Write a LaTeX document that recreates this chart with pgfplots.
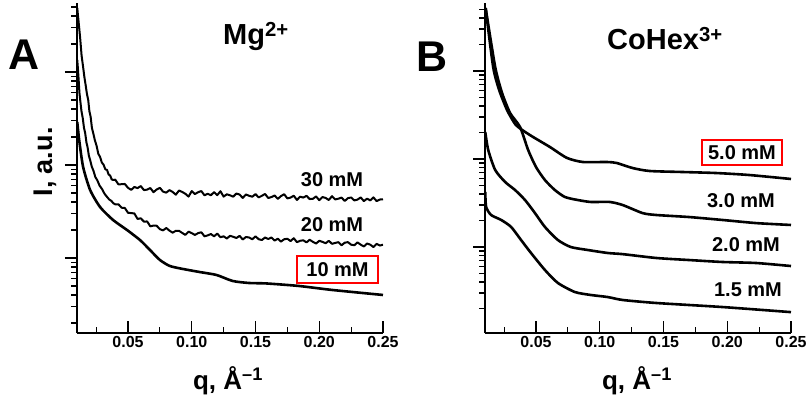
\documentclass[border=0pt]{standalone}
\usepackage{fontspec}
\setmainfont{Liberation Sans}
\usepackage{pgfplots}
\pgfplotsset{compat=1.18}
\newcommand{\fs}[1]{\fontsize{#1}{#1}\selectfont\bfseries}
\pgfplotsset{
  every axis/.append style={
    scale only axis, width=306bp, height=330bp,
    anchor=south west,
    axis x line*=bottom, axis y line*=left,
    axis line style={line width=1.5bp, -},
    xmin=0.01, xmax=0.25,
    xtick={0.05,0.1,0.15,0.2,0.25},
    minor xtick={0.025,0.075,0.125,0.175,0.225},
    xtick align=inside, ytick align=outside,
    major tick length=12bp, minor tick length=6bp,
    every tick/.append style={black, line width=1.2bp},
    yticklabel=\empty,
    /pgf/number format/assume math mode=true,
    xticklabel style={font=\fs{16bp}, /pgf/number format/fixed, /pgf/number format/fixed zerofill, /pgf/number format/precision=2},
  },
}
\tikzset{
  curve/.style={black, line width=2.6bp, line join=round},
  noisy/.style={black, line width=2.0bp, line join=round},
}
\begin{document}
\begin{tikzpicture}
\useasboundingbox (0,0) rectangle (812bp,402bp);
% ---------------- Panel A ----------------
\begin{axis}[at={(77bp,69bp)}, ymode=log, ymin=0.156, ymax=552]
% 30 mM
\addplot[noisy, mark=none] coordinates {
(0.0102,488) (0.0115,320) (0.0125,230) (0.0136,150) (0.0148,113) (0.0158,88) (0.0168,72)
(0.0178,58) (0.0188,50) (0.0197,38) (0.0207,33) (0.0217,25) (0.0227,22.1) (0.0240,18.5)
(0.0254,16.0) (0.0267,13.2) (0.0281,12.2) (0.0295,10.6) (0.0308,10.1) (0.0322,9.0)
(0.0336,8.83) (0.0348,7.9) (0.0360,7.7) (0.0372,7.0) (0.0383,6.90)
(0.0400,6.95) (0.0425,6.19) (0.0450,6.21) (0.0475,6.25) (0.0500,5.68) (0.0525,5.40)
(0.0550,5.80) (0.0575,5.64) (0.0600,5.93) (0.0625,5.37) (0.0650,5.43) (0.0675,5.65)
(0.0700,5.10) (0.0725,5.45) (0.0750,5.68) (0.0775,5.17) (0.0800,5.04) (0.0825,5.37)
(0.0850,5.13) (0.0875,4.79) (0.0900,5.31) (0.0925,5.13) (0.0950,4.90) (0.0975,4.57)
(0.1000,5.24) (0.1025,4.87) (0.1050,5.10) (0.1075,5.24) (0.1100,4.72) (0.1125,4.90)
(0.1150,4.73) (0.1175,5.10) (0.1200,4.74) (0.1225,5.22) (0.1250,4.57) (0.1275,4.84)
(0.1300,4.72) (0.1325,4.56) (0.1350,4.93) (0.1375,4.81) (0.1400,4.42) (0.1425,4.82)
(0.1450,4.66) (0.1475,4.56) (0.1500,4.86) (0.1525,4.48) (0.1550,4.66) (0.1575,4.88)
(0.1600,4.41) (0.1625,4.52) (0.1650,4.70) (0.1675,4.32) (0.1700,4.63) (0.1725,4.85)
(0.1750,4.37) (0.1775,4.46) (0.1800,4.67) (0.1825,4.21) (0.1850,4.56) (0.1875,4.46)
(0.1900,4.66) (0.1925,4.30) (0.1950,4.33) (0.1975,4.59) (0.2000,4.18) (0.2025,4.52)
(0.2050,4.42) (0.2075,4.20) (0.2100,4.62) (0.2125,4.26) (0.2150,4.34) (0.2175,4.46)
(0.2200,4.10) (0.2225,4.40) (0.2250,4.47) (0.2275,4.16) (0.2300,4.24) (0.2325,4.48)
(0.2350,4.09) (0.2375,4.34) (0.2400,4.16) (0.2425,4.48) (0.2450,4.09) (0.2475,4.25)
(0.2500,4.28)};
% 20 mM
\addplot[noisy, mark=none] coordinates {
(0.0102,135) (0.0108,105) (0.0113,82) (0.0119,60) (0.0125,50) (0.0135,38) (0.0145,32)
(0.0155,25) (0.0164,22.1) (0.0174,17.5) (0.0183,15.5) (0.0193,12.6) (0.0203,11.3)
(0.0216,9.6) (0.0230,8.6) (0.0244,7.4) (0.0258,6.90) (0.0277,6.0) (0.0297,5.5)
(0.0316,4.9) (0.0336,4.53) (0.0353,4.25) (0.0370,4.10) (0.0385,3.88)
(0.0400,3.77) (0.0425,3.78) (0.0450,3.47) (0.0475,3.45) (0.0500,3.06) (0.0525,3.04)
(0.0550,3.01) (0.0575,2.63) (0.0600,2.67) (0.0625,2.46) (0.0650,2.47) (0.0675,2.19)
(0.0700,2.23) (0.0725,2.22) (0.0750,2.04) (0.0775,1.98) (0.0800,2.10) (0.0825,1.97)
(0.0850,1.87) (0.0875,1.96) (0.0900,1.96) (0.0925,1.86) (0.0950,1.77) (0.0975,1.92)
(0.1000,1.85) (0.1025,1.77) (0.1050,1.85) (0.1075,1.89) (0.1100,1.71) (0.1125,1.75)
(0.1150,1.81) (0.1175,1.71) (0.1200,1.83) (0.1225,1.67) (0.1250,1.71) (0.1275,1.62)
(0.1300,1.73) (0.1325,1.69) (0.1350,1.64) (0.1375,1.73) (0.1400,1.58) (0.1425,1.68)
(0.1450,1.66) (0.1475,1.59) (0.1500,1.71) (0.1525,1.59) (0.1550,1.56) (0.1575,1.66)
(0.1600,1.60) (0.1625,1.66) (0.1650,1.54) (0.1675,1.61) (0.1700,1.50) (0.1725,1.59)
(0.1750,1.61) (0.1775,1.52) (0.1800,1.63) (0.1825,1.48) (0.1850,1.53) (0.1875,1.55)
(0.1900,1.47) (0.1925,1.57) (0.1950,1.49) (0.1975,1.43) (0.2000,1.53) (0.2025,1.49)
(0.2050,1.44) (0.2075,1.53) (0.2100,1.42) (0.2125,1.45) (0.2150,1.48) (0.2175,1.37)
(0.2200,1.46) (0.2225,1.48) (0.2250,1.39) (0.2275,1.37) (0.2300,1.47) (0.2325,1.39)
(0.2350,1.33) (0.2375,1.43) (0.2400,1.39) (0.2425,1.31) (0.2450,1.42) (0.2475,1.36)
(0.2500,1.39)};
% 10 mM
\addplot[curve, mark=none, smooth, tension=0.4] coordinates {
(0.0102,29.0) (0.0117,18.6) (0.0148,9.51) (0.0203,5.38) (0.0281,3.53) (0.0383,2.56)
(0.0492,2.00) (0.0594,1.56) (0.0672,1.22) (0.0750,0.952) (0.0828,0.820) (0.0930,0.762)
(0.1060,0.707) (0.1195,0.656) (0.1320,0.566) (0.1450,0.538) (0.1586,0.532) (0.1840,0.500)
(0.2100,0.453) (0.2500,0.400)};
\end{axis}
% ---------------- Panel B ----------------
\begin{axis}[at={(485bp,69bp)}, ymode=log, ymin=0.1054, ymax=593]
% 5.0 mM
\addplot[curve, mark=none, smooth, tension=0.4] coordinates {
(0.0105,520) (0.0164,111) (0.0211,60.8) (0.0273,36.0) (0.0336,25.0) (0.0391,21.4)
(0.0477,17.8) (0.0609,13.7) (0.0742,10.3) (0.0867,9.25) (0.1055,9.25) (0.1133,9.01)
(0.1258,7.90) (0.1391,7.31) (0.1648,7.12) (0.1914,6.93) (0.2172,6.58) (0.2500,5.93)};
% 3.0 mM
\addplot[curve, mark=none, smooth, tension=0.4] coordinates {
(0.0105,520) (0.0180,111) (0.0234,56.2) (0.0297,33.3) (0.0375,23.1) (0.0438,12.7)
(0.0500,8.11) (0.0570,5.77) (0.0648,4.44) (0.0727,3.70) (0.0828,3.42) (0.0930,3.25)
(0.1078,3.25) (0.1180,3.00) (0.1336,2.43) (0.1445,2.31) (0.1703,2.19) (0.1961,2.03)
(0.2227,1.87) (0.2500,1.78)};
% 2.0 mM
\addplot[curve, mark=none, smooth, tension=0.4] coordinates {
(0.0102,20.3) (0.0125,12.7) (0.0180,7.50) (0.0258,5.48) (0.0336,4.44) (0.0414,3.42)
(0.0492,2.43) (0.0570,1.69) (0.0672,1.20) (0.0773,1.00) (0.0906,0.925) (0.1063,0.855)
(0.1180,0.830) (0.1445,0.750) (0.1703,0.711) (0.1961,0.676) (0.2227,0.658) (0.2500,0.608)};
% 1.5 mM
\addplot[curve, mark=none, smooth, tension=0.4] coordinates {
(0.0102,4.22) (0.0109,2.85) (0.0148,2.31) (0.0227,2.03) (0.0305,1.69) (0.0383,1.20)
(0.0461,0.855) (0.0570,0.548) (0.0672,0.390) (0.0805,0.308) (0.0930,0.285) (0.1063,0.270)
(0.1180,0.250) (0.1445,0.231) (0.1961,0.208) (0.2500,0.182)};
\end{axis}
% ---------------- Texts ----------------
\node[font=\fs{43bp}] at (24bp,347bp) {A};
\node[font=\fs{43bp}] at (432bp,345bp) {B};
\node[font=\fs{29bp}, anchor=base west, inner sep=0pt] at (223bp,357bp) {Mg\textsuperscript{2+}};
\node[font=\fs{29bp}, anchor=base west, inner sep=0pt] at (607bp,352bp) {CoHex\textsuperscript{3+}};
\node[font=\fs{27bp}, rotate=90] at (45bp,240bp) {I, a.u.};
\node[font=\fs{26bp}, anchor=base, inner sep=0pt] at (228bp,13bp) {q, Å\textsuperscript{--1}};
\node[font=\fs{26bp}, anchor=base, inner sep=0pt] at (637bp,13bp) {q, Å\textsuperscript{--1}};
\node[font=\fs{20bp}] at (332bp,222bp) {30 mM};
\node[font=\fs{20bp}] at (332bp,177bp) {20 mM};
\node[font=\fs{20bp}, draw=red, line width=1.6bp, minimum width=81bp, minimum height=27bp, inner sep=0pt] at (337.5bp,132.5bp) {10 mM};
\node[font=\fs{20bp}, draw=red, line width=1.6bp, minimum width=80bp, minimum height=25bp, inner sep=0pt] at (742bp,249.5bp) {5.0 mM};
\node[font=\fs{20bp}] at (741bp,201bp) {3.0 mM};
\node[font=\fs{20bp}] at (746bp,157bp) {2.0 mM};
\node[font=\fs{20bp}] at (748bp,112bp) {1.5 mM};
\end{tikzpicture}
\end{document}
